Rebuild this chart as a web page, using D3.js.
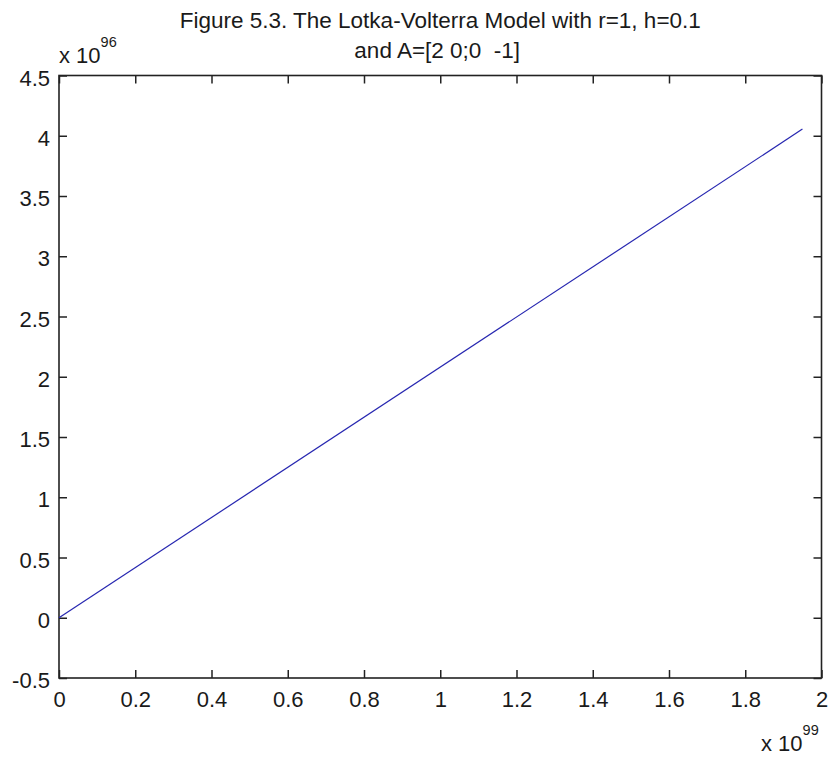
<!DOCTYPE html>
<html>
<head>
<meta charset="utf-8">
<script src="https://cdn.jsdelivr.net/npm/d3@7"></script>
<style>
  html, body { margin: 0; padding: 0; background: #fff; }
  svg { display: block; }
  text { font-family: "Liberation Sans", Arial, sans-serif; fill: #1a1a1a; }
</style>
</head>
<body>
<script>
// Trajectory of the Lotka-Volterra iteration (x scaled by 1e99, y by 1e96)
const preyValues = [0, 1.95];
const predatorValues = [0, 4.055];
const xTicks = [0, 0.2, 0.4, 0.6, 0.8, 1, 1.2, 1.4, 1.6, 1.8, 2];
const yTicks = [-0.5, 0, 0.5, 1, 1.5, 2, 2.5, 3, 3.5, 4, 4.5];
const xExponent = "99";
const yExponent = "96";
const titleLines = ["Figure 5.3. The Lotka-Volterra Model with r=1, h=0.1", "and A=[2 0;0  -1]"];

const W = 830, H = 757;
const plot = { left: 59, right: 821.5, top: 75.5, bottom: 678 };
const axisColor = "#222";
const fontSize = 22;

const svg = d3.select("body").append("svg").attr("width", W).attr("height", H);
svg.append("rect").attr("width", W).attr("height", H).attr("fill", "#fff");

const x = d3.scaleLinear().domain([0, 2]).range([plot.left, plot.right]);
const y = d3.scaleLinear().domain([-0.5, 4.5]).range([plot.bottom, plot.top]);
const fmt = d => String(+d.toFixed(1));

// Bottom axis with inward ticks and labels
const gBottom = svg.append("g").attr("transform", `translate(0,${plot.bottom})`)
  .call(d3.axisBottom(x).tickValues(xTicks).tickFormat(fmt).tickSize(-8).tickPadding(16));
// Left axis
const gLeft = svg.append("g").attr("transform", `translate(${plot.left},0)`)
  .call(d3.axisLeft(y).tickValues(yTicks).tickFormat(fmt).tickSize(-8).tickPadding(16));
// Top and right axes: ticks only
const gTop = svg.append("g").attr("transform", `translate(0,${plot.top})`)
  .call(d3.axisTop(x).tickValues(xTicks).tickFormat("").tickSize(-8));
const gRight = svg.append("g").attr("transform", `translate(${plot.right},0)`)
  .call(d3.axisRight(y).tickValues(yTicks).tickFormat("").tickSize(-8));

[gBottom, gLeft, gTop, gRight].forEach(g => {
  g.select(".domain").remove();
  g.selectAll(".tick line").attr("stroke", axisColor).attr("stroke-width", 1.5);
  g.selectAll(".tick text").attr("font-size", fontSize).attr("fill", "#1a1a1a")
    .attr("font-family", '"Liberation Sans", Arial, sans-serif');
});
gBottom.selectAll(".tick text").attr("dy", null).attr("y", 29);
gLeft.selectAll(".tick text").attr("dy", null).attr("y", 9.5).attr("x", -9);

// Axes box
svg.append("rect")
  .attr("x", plot.left).attr("y", plot.top)
  .attr("width", plot.right - plot.left).attr("height", plot.bottom - plot.top)
  .attr("fill", "none").attr("stroke", axisColor).attr("stroke-width", 1.6);

// Data line
const line = d3.line().x((d, i) => x(preyValues[i])).y((d, i) => y(predatorValues[i]));
svg.append("path").datum(preyValues)
  .attr("d", line).attr("fill", "none")
  .attr("stroke", "#2626b0").attr("stroke-width", 1.2);

// Exponent labels
function exponentLabel(px, py, exp) {
  const t = svg.append("text").attr("x", px).attr("y", py).attr("font-size", fontSize);
  t.append("tspan").text("x 10");
  t.append("tspan").attr("font-size", 14.5).attr("dy", -16).text(exp);
}
exponentLabel(59, 63, yExponent);
exponentLabel(761, 751, xExponent);

// Title
svg.append("text").attr("x", (plot.left + plot.right) / 2).attr("y", 27.5)
  .attr("text-anchor", "middle").attr("font-size", 22.5).text(titleLines[0]);
svg.append("text").attr("x", (plot.left + plot.right) / 2 - 3).attr("y", 58)
  .attr("text-anchor", "middle").attr("font-size", 22.5).attr("xml:space", "preserve")
  .style("white-space", "pre").text(titleLines[1]);
</script>
</body>
</html>
